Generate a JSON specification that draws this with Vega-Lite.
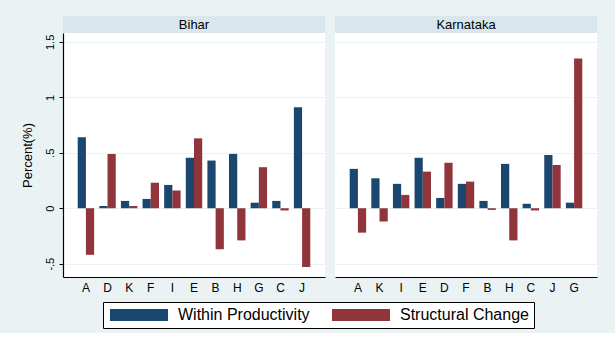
{
  "$schema": "https://vega.github.io/schema/vega-lite/v6.json",
  "background": "#EAF2F3",
  "padding": {"left": 21, "top": 16, "right": 18, "bottom": 4},
  "datasets": {
    "d": [
      {"state": "Bihar", "sector": "A", "series": "Within Productivity", "value": 0.64},
      {"state": "Bihar", "sector": "A", "series": "Structural Change", "value": -0.42},
      {"state": "Bihar", "sector": "D", "series": "Within Productivity", "value": 0.02},
      {"state": "Bihar", "sector": "D", "series": "Structural Change", "value": 0.49},
      {"state": "Bihar", "sector": "K", "series": "Within Productivity", "value": 0.066},
      {"state": "Bihar", "sector": "K", "series": "Structural Change", "value": 0.02},
      {"state": "Bihar", "sector": "F", "series": "Within Productivity", "value": 0.084},
      {"state": "Bihar", "sector": "F", "series": "Structural Change", "value": 0.23},
      {"state": "Bihar", "sector": "I", "series": "Within Productivity", "value": 0.21},
      {"state": "Bihar", "sector": "I", "series": "Structural Change", "value": 0.16},
      {"state": "Bihar", "sector": "E", "series": "Within Productivity", "value": 0.455},
      {"state": "Bihar", "sector": "E", "series": "Structural Change", "value": 0.63},
      {"state": "Bihar", "sector": "B", "series": "Within Productivity", "value": 0.43},
      {"state": "Bihar", "sector": "B", "series": "Structural Change", "value": -0.37},
      {"state": "Bihar", "sector": "H", "series": "Within Productivity", "value": 0.49},
      {"state": "Bihar", "sector": "H", "series": "Structural Change", "value": -0.29},
      {"state": "Bihar", "sector": "G", "series": "Within Productivity", "value": 0.05},
      {"state": "Bihar", "sector": "G", "series": "Structural Change", "value": 0.37},
      {"state": "Bihar", "sector": "C", "series": "Within Productivity", "value": 0.066},
      {"state": "Bihar", "sector": "C", "series": "Structural Change", "value": -0.02},
      {"state": "Bihar", "sector": "J", "series": "Within Productivity", "value": 0.91},
      {"state": "Bihar", "sector": "J", "series": "Structural Change", "value": -0.53},
      {"state": "Karnataka", "sector": "A", "series": "Within Productivity", "value": 0.355},
      {"state": "Karnataka", "sector": "A", "series": "Structural Change", "value": -0.22},
      {"state": "Karnataka", "sector": "K", "series": "Within Productivity", "value": 0.27},
      {"state": "Karnataka", "sector": "K", "series": "Structural Change", "value": -0.12},
      {"state": "Karnataka", "sector": "I", "series": "Within Productivity", "value": 0.22},
      {"state": "Karnataka", "sector": "I", "series": "Structural Change", "value": 0.12},
      {"state": "Karnataka", "sector": "E", "series": "Within Productivity", "value": 0.455},
      {"state": "Karnataka", "sector": "E", "series": "Structural Change", "value": 0.33},
      {"state": "Karnataka", "sector": "D", "series": "Within Productivity", "value": 0.093},
      {"state": "Karnataka", "sector": "D", "series": "Structural Change", "value": 0.41},
      {"state": "Karnataka", "sector": "F", "series": "Within Productivity", "value": 0.22},
      {"state": "Karnataka", "sector": "F", "series": "Structural Change", "value": 0.24},
      {"state": "Karnataka", "sector": "B", "series": "Within Productivity", "value": 0.066},
      {"state": "Karnataka", "sector": "B", "series": "Structural Change", "value": -0.015},
      {"state": "Karnataka", "sector": "H", "series": "Within Productivity", "value": 0.40},
      {"state": "Karnataka", "sector": "H", "series": "Structural Change", "value": -0.29},
      {"state": "Karnataka", "sector": "C", "series": "Within Productivity", "value": 0.04},
      {"state": "Karnataka", "sector": "C", "series": "Structural Change", "value": -0.02},
      {"state": "Karnataka", "sector": "J", "series": "Within Productivity", "value": 0.48},
      {"state": "Karnataka", "sector": "J", "series": "Structural Change", "value": 0.39},
      {"state": "Karnataka", "sector": "G", "series": "Within Productivity", "value": 0.05},
      {"state": "Karnataka", "sector": "G", "series": "Structural Change", "value": 1.35}
    ]
  },
  "spacing": 10,
  "hconcat": [
    {
      "spacing": 0,
      "vconcat": [
        {
          "width": 262,
          "height": 17,
          "view": {"fill": "#D9E6EB", "stroke": null},
          "data": {"values": [{"label": "Bihar"}]},
          "mark": {"type": "text", "fontSize": 13, "color": "black", "baseline": "middle", "align": "center"},
          "encoding": {"text": {"field": "label"}}
        },
        {
          "width": 262,
          "height": 244,
          "view": {"fill": "white", "stroke": null},
          "data": {"name": "d"},
          "transform": [{"filter": "datum.state === 'Bihar'"}],
          "mark": {"type": "bar"},
          "encoding": {
            "x": {
              "field": "sector", "type": "nominal",
              "sort": ["A", "D", "K", "F", "I", "E", "B", "H", "G", "C", "J"],
              "scale": {"paddingInner": 0.24, "paddingOuter": 0.68},
              "axis": {"title": null, "labelAngle": 0, "ticks": false, "domainColor": "black", "domainWidth": 1.2, "labelFontSize": 12, "labelPadding": 5, "labelColor": "black", "grid": false}
            },
            "xOffset": {"field": "series", "sort": ["Within Productivity", "Structural Change"]},
            "y": {
              "field": "value", "type": "quantitative",
              "scale": {"domain": [-0.62, 1.58], "nice": false, "zero": false},
              "axis": {
                "title": "Percent(%)", "titleFontSize": 13, "titleFontWeight": "normal", "titleColor": "black", "titlePadding": 10,
                "values": [-0.5, 0, 0.5, 1, 1.5],
                "labelExpr": "replace(toString(datum.value), '0.', '.')",
                "labelAngle": -90, "labelFontSize": 11, "labelColor": "black", "labelPadding": 4,
                "tickSize": 4, "tickColor": "black", "domainColor": "black", "domainWidth": 1.2,
                "grid": true, "gridColor": "#EAF2F3", "gridWidth": 1
              }
            },
            "color": {
              "field": "series", "type": "nominal",
              "scale": {"domain": ["Within Productivity", "Structural Change"], "range": ["#1A476F", "#90353B"]},
              "legend": {"title": null}
            }
          }
        }
      ]
    },
    {
      "spacing": 0,
      "vconcat": [
        {
          "width": 262,
          "height": 17,
          "view": {"fill": "#D9E6EB", "stroke": null},
          "data": {"values": [{"label": "Karnataka"}]},
          "mark": {"type": "text", "fontSize": 13, "color": "black", "baseline": "middle", "align": "center"},
          "encoding": {"text": {"field": "label"}}
        },
        {
          "width": 262,
          "height": 244,
          "view": {"fill": "white", "stroke": null},
          "data": {"name": "d"},
          "transform": [{"filter": "datum.state === 'Karnataka'"}],
          "mark": {"type": "bar"},
          "encoding": {
            "x": {
              "field": "sector", "type": "nominal",
              "sort": ["A", "K", "I", "E", "D", "F", "B", "H", "C", "J", "G"],
              "scale": {"paddingInner": 0.24, "paddingOuter": 0.68},
              "axis": {"title": null, "labelAngle": 0, "ticks": false, "domainColor": "black", "domainWidth": 1.2, "labelFontSize": 12, "labelPadding": 5, "labelColor": "black", "grid": false}
            },
            "xOffset": {"field": "series", "sort": ["Within Productivity", "Structural Change"]},
            "y": {
              "field": "value", "type": "quantitative",
              "scale": {"domain": [-0.62, 1.58], "nice": false, "zero": false},
              "axis": {
                "title": null, "labels": false, "ticks": false, "domain": false,
                "values": [-0.5, 0, 0.5, 1, 1.5],
                "grid": true, "gridColor": "#EAF2F3", "gridWidth": 1
              }
            },
            "color": {
              "field": "series", "type": "nominal",
              "scale": {"domain": ["Within Productivity", "Structural Change"], "range": ["#1A476F", "#90353B"]},
              "legend": {"title": null}
            }
          }
        }
      ]
    }
  ],
  "config": {
    "font": "Liberation Sans",
    "view": {"stroke": null},
    "legend": {
      "orient": "none",
      "legendX": 40,
      "legendY": 286,
      "direction": "horizontal",
      "symbolType": "M-1,-1H8.67V1H-1Z",
      "symbolSize": 144,
      "symbolStrokeWidth": 0,
      "symbolOpacity": 1,
      "labelFontSize": 16,
      "labelColor": "black",
      "labelOffset": 54,
      "columnPadding": 20,
      "fillColor": "white",
      "strokeColor": "black",
      "padding": 5
    }
  }
}
